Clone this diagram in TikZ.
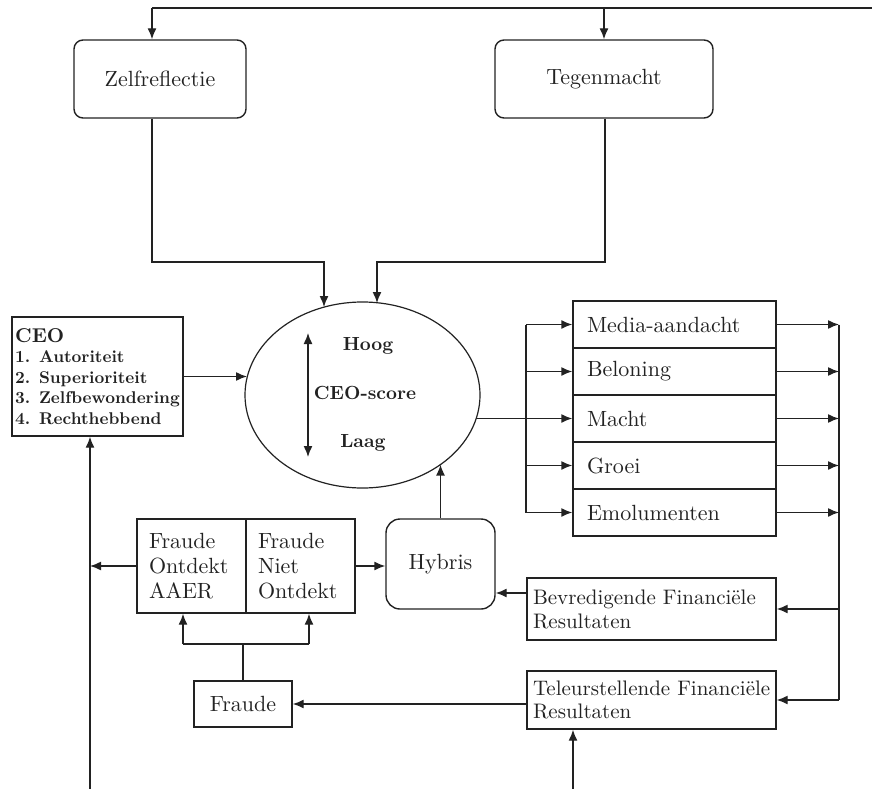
\documentclass[tikz,border=0pt]{standalone}
\usepackage{fontspec}
\setmainfont{lmroman10}[Extension=.otf, UprightFont=*-regular, BoldFont=*-bold]
\usetikzlibrary{arrows.meta,shapes.geometric}
\definecolor{ink}{HTML}{222222}
\begin{document}
\begin{tikzpicture}[x=1pt,y=-1pt,
  ln/.style={line width=1.4pt, draw=ink},
  arr/.style={ln, -{Latex[length=11pt,width=9pt]}},
  dblarr/.style={ln, {Latex[length=11pt,width=9pt]}-{Latex[length=11pt,width=9pt]}},
  box/.style={draw=ink, line width=1.4pt, inner sep=0pt, text=ink,
    font=\fontsize{22}{25}\selectfont},
  rbox/.style={box, rounded corners=9pt},
  lbox/.style={box, align=left},
  bold/.style={text=ink, inner sep=0pt, font=\bfseries\fontsize{19}{22}\selectfont}
]
\useasboundingbox (0,0) rectangle (872,789);

% top boxes
\node[rbox, minimum width=172, minimum height=78] (zelf) at (160,79) {Zelfreflectie};
\node[rbox, minimum width=218, minimum height=78] (tegen) at (604,79) {Tegenmacht};

% ellipse
\node[draw=ink, line width=1.2pt, ellipse, inner sep=0pt, minimum width=235, minimum height=186] (ell) at (362.5,395) {};
\node[bold] (hoog) at (368,346) {Hoog};
\node[bold] (score) at (365,393) {CEO-score};
\node[bold] (laag) at (363,443) {Laag};
\coordinate (dtop) at (308,333);
\coordinate (dbot) at (308,457);
\draw[dblarr] (dtop) -- (dbot);

% CEO box
\node[lbox, minimum width=171, minimum height=119,
  font=\bfseries\fontsize{17}{20.5}\selectfont] (ceo) at (97.5,376.5)
  {{\fontsize{20}{20.5}\selectfont CEO}\\1. Autoriteit\\2. Superioriteit\\3. Zelfbewondering\\4. Rechthebbend};

% right column
\node[lbox, minimum height=47, text width=175, inner xsep=14] (media) at (674.5,324.5) {Media-aandacht};
\node[lbox, minimum height=47, text width=175, inner xsep=14] (bel) at (674.5,371.5) {Beloning};
\node[lbox, minimum height=47, text width=175, inner xsep=14] (macht) at (674.5,418.5) {Macht};
\node[lbox, minimum height=47, text width=175, inner xsep=14] (groei) at (674.5,465.5) {Groei};
\node[lbox, minimum height=47, text width=175, inner xsep=14] (emol) at (674.5,512.5) {Emolumenten};

% financial results
\node[lbox, minimum height=62, text width=237, inner xsep=6, font=\fontsize{21}{24}\selectfont] (bevr) at (651.5,609) {\mbox{Bevredigende Financiële}\\Resultaten};
\node[lbox, minimum height=58, text width=237, inner xsep=6, font=\fontsize{21}{23.5}\selectfont] (teleur) at (651.5,700) {\mbox{Teleurstellende Financiële}\\Resultaten};

% hybris
\node[box, rounded corners=14pt, minimum width=109, minimum height=90] (hyb) at (440.5,564) {Hybris};

% fraude ontdekt / niet ontdekt
\node[lbox, minimum height=94, text width=85, inner xsep=12] (fo) at (191.5,566) {Fraude\\Ontdekt\\AAER};
\node[lbox, minimum height=94, text width=85, inner xsep=12] (fn) at (300.5,566) {Fraude\\Niet\\Ontdekt};

% fraude
\node[box, minimum width=98, minimum height=46] (fraude) at (243,704) {Fraude};

% ---- connectors ----
\coordinate (tr) at (872,8);
\coordinate (tz) at (152,8);
\coordinate (tt) at (604,8);
\draw[ln] (tr) -- (tz);
\draw[arr] (tz) -- (tz |- zelf.north);
\draw[arr] (tt) -- (tt |- tegen.north);

\coordinate (zb) at (152,262);
\coordinate (ze) at (324,307);
\draw[arr] (tz |- zelf.south) -- (zb) -| (ze);
\coordinate (tb) at (605,262);
\coordinate (te) at (377,303);
\draw[arr] (tb |- tegen.south) -- (tb) -| (te);

% CEO -> ellipse
\coordinate (ce) at (247,376.5);
\draw[arr] (ceo.east) -- (ce);

% left vertical line up to CEO
\coordinate (bl) at (90,789);
\draw[arr] (bl) -- (bl |- ceo.south);

% ellipse -> macht and bus
\coordinate (em) at (476,418.5);
\draw[arr] (em) -- (macht.west);
\coordinate (lb1) at (526,324.5);
\coordinate (lb5) at (526,512.5);
\draw[ln] (lb1) -- (lb5);
\draw[arr] (lb1) -- (media.west);
\draw[arr] (lb1 |- bel.west) -- (bel.west);
\draw[arr] (lb1 |- groei.west) -- (groei.west);
\draw[arr] (lb5) -- (emol.west);

% right bus
\coordinate (rb1) at (839,324.5);
\coordinate (rbt) at (839,700);
\draw[arr] (media.east) -- (rb1);
\draw[arr] (bel.east) -- (rb1 |- bel.east);
\draw[arr] (macht.east) -- (rb1 |- macht.east);
\draw[arr] (groei.east) -- (rb1 |- groei.east);
\draw[arr] (emol.east) -- (rb1 |- emol.east);
\draw[ln] (rb1) -- (rbt);
\draw[arr] (rb1 |- bevr.east) -- (bevr.east);
\draw[arr] (rbt) -- (teleur.east);

% bevredigende -> hybris
\draw[arr] ([yshift=16pt]bevr.west) -- ([yshift=16pt]bevr.west -| hyb.east);

% hybris -> ellipse
\coordinate (he) at (440.5,464.6);
\draw[arr] (hyb.north) -- (he);

% bottom arrow into teleurstellende
\coordinate (bt) at (573,789);
\draw[arr] (bt) -- (bt |- teleur.south);

% teleurstellende -> fraude
\draw[arr] (fraude.east -| teleur.west) -- (fraude.east);

% fraude -> ontdekt / niet ontdekt
\coordinate (fj) at (243,644);
\coordinate (fl) at (183,644);
\coordinate (fr) at (309,644);
\draw[ln] (fraude.north) -- (fj);
\draw[ln] (fl) -- (fr);
\draw[arr] (fl) -- (fl |- fo.south);
\draw[arr] (fr) -- (fr |- fn.south);

% fraude ontdekt -> left line ; niet ontdekt -> hybris
\draw[arr] (fo.west) -- (fo.west -| bl);
\draw[arr] (fn.east) -- (fn.east -| hyb.west);
\end{tikzpicture}
\end{document}
